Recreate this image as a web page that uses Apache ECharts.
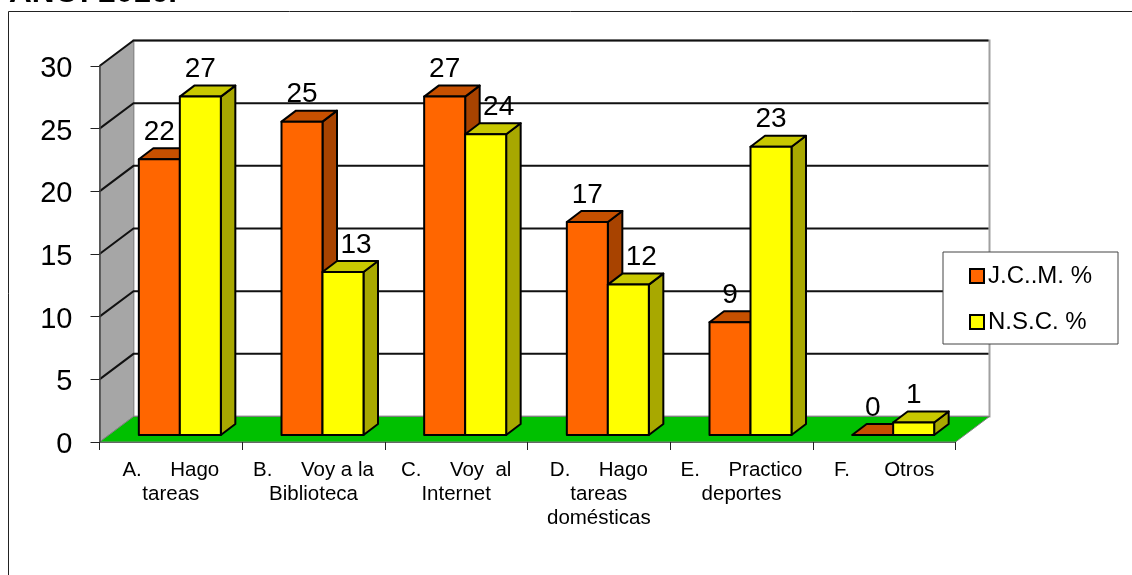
<!DOCTYPE html>
<html>
<head>
<meta charset="utf-8">
<style>html,body{margin:0;padding:0;background:#fff}#c{width:1132px;height:575px}</style>
<script src="https://cdn.jsdelivr.net/npm/echarts@6/dist/echarts.min.js"></script>
</head>
<body>
<div id="c"></div>
<script>
var categories = ["A.     Hago\ntareas", "B.     Voy a la\nBiblioteca", "C.     Voy  al\nInternet", "D.     Hago\ntareas\ndomésticas", "E.     Practico\ndeportes", "F.      Otros"];
var jcm = [22, 25, 27, 17, 9, 0];
var nsc = [27, 13, 24, 12, 23, 1];
var yTicks = [0, 5, 10, 15, 20, 25, 30];
var FONT = '"Liberation Sans", Arial, sans-serif';

// pseudo-3D depth of the chart box and of each bar, in pixels
var WALL_DX = 34, WALL_DY = 25.5;
var BAR_DX = 14.5, BAR_DY = 11;
var BAR_SHIFT_X = 9, BAR_SHIFT_Y = 7;
var BAR_W_RATIO = 41 / 142.67;
var LABEL_NUDGE = 13; // a label slides right when the bar to its left is taller

function wallItem(params, api) {
  var v = api.value(0);
  var cs = params.coordSys;
  var left = cs.x, right = cs.x + cs.width;
  var y = api.coord([0, v])[1];
  var y0 = cs.y + cs.height, yt = cs.y;
  var kids = [];
  if (params.dataIndex === 0) {
    kids.push({ type: 'polygon', shape: { points: [[left + WALL_DX, yt - WALL_DY], [right + WALL_DX, yt - WALL_DY], [right + WALL_DX, y0 - WALL_DY], [left + WALL_DX, y0 - WALL_DY]] },
      style: { fill: '#fff', stroke: '#a0a0a0', lineWidth: 2 } });
    kids.push({ type: 'polygon', shape: { points: [[left, yt], [left + WALL_DX, yt - WALL_DY], [left + WALL_DX, y0 - WALL_DY], [left, y0]] },
      style: { fill: '#a6a6a6', stroke: '#8c8c8c', lineWidth: 1 } });
    kids.push({ type: 'polygon', shape: { points: [[left, y0], [left + WALL_DX, y0 - WALL_DY], [right + WALL_DX, y0 - WALL_DY], [right, y0]] },
      style: { fill: '#00c000', stroke: '#808080', lineWidth: 1 } });
  }
  if (v > 0) {
    kids.push({ type: 'polyline', shape: { points: [[left, y], [left + WALL_DX, y - WALL_DY], [right + WALL_DX - 1, y - WALL_DY]] },
      style: { fill: null, stroke: '#111', lineWidth: 2 } });
  }
  return { type: 'group', children: kids };
}

function barRender(offsetIndex, front, top, side, neighbour) {
  return function (params, api) {
    var cat = api.value(0), val = api.value(1);
    var p = api.coord([cat, val]);
    var p0 = api.coord([cat, 0]);
    var w = api.size([1, 0])[0] * BAR_W_RATIO;
    var x = p[0] + BAR_SHIFT_X + (offsetIndex - 1) * w;
    var yT = p[1] - BAR_SHIFT_Y, yB = p0[1] - BAR_SHIFT_Y;
    var line = { stroke: '#000', lineWidth: 2, lineJoin: 'round' };
    function st(fill) { return Object.assign({ fill: fill }, line); }
    var kids = [
      { type: 'polygon', shape: { points: [[x + w, yT], [x + w + BAR_DX, yT - BAR_DY], [x + w + BAR_DX, yB - BAR_DY], [x + w, yB]] }, style: st(side) },
      { type: 'polygon', shape: { points: [[x, yT], [x + BAR_DX, yT - BAR_DY], [x + w + BAR_DX, yT - BAR_DY], [x + w, yT]] }, style: st(top) }
    ];
    if (val > 0) kids.push({ type: 'rect', shape: { x: x, y: yT, width: w, height: yB - yT }, style: st(front) });
    var nudge = neighbour && neighbour[cat] > val ? LABEL_NUDGE : 0;
    kids.push({ type: 'text', x: x + w / 2 + nudge, y: yT - 27, style: { text: String(val), fill: '#000', font: '28px ' + FONT, align: 'center', verticalAlign: 'middle' } });
    return { type: 'group', children: kids };
  };
}

var chart = echarts.init(document.getElementById('c'), null, { renderer: 'canvas' });
chart.setOption({
  animation: false,
  backgroundColor: '#fff',
  title: {
    text: 'AÑO: 2016.', left: 9, top: -23, padding: 0,
    textStyle: { fontFamily: FONT, fontSize: 31.5, fontWeight: 'bold', color: '#000' }
  },
  graphic: [{
    type: 'polyline', silent: true, z: -1,
    shape: { points: [[8.5, 575], [8.5, 11.5], [1132, 11.5]] },
    style: { fill: null, stroke: '#222', lineWidth: 1 }
  }],
  grid: { left: 99.5, top: 66, width: 856, height: 376, containLabel: false },
  legend: {
    data: ['J.C..M. %', 'N.S.C. %'],
    orient: 'vertical', left: 943, top: 252, padding: [12, 26, 10, 26],
    backgroundColor: '#fff', borderColor: '#444', borderWidth: 1,
    itemWidth: 14, itemHeight: 14, itemGap: 22, icon: 'rect', selectedMode: false,
    textStyle: { fontFamily: FONT, fontSize: 24, color: '#000', padding: [0, 0, 0, -1] },
    itemStyle: { borderColor: '#000', borderWidth: 2 },
    z: 20
  },
  xAxis: {
    type: 'category', data: categories, z: 5,
    axisLine: { show: true, lineStyle: { color: '#666', width: 1 } },
    axisTick: { show: true, alignWithLabel: false, length: 8, lineStyle: { color: '#222' } },
    axisLabel: { interval: 0, margin: 16, color: '#000', fontFamily: FONT, fontSize: 20.5, lineHeight: 24 },
    splitLine: { show: false }
  },
  yAxis: {
    type: 'value', min: 0, max: 30, interval: 5, z: 5,
    axisLine: { show: true, lineStyle: { color: '#444', width: 1.5 } },
    axisTick: { show: true, length: 9, lineStyle: { color: '#222' } },
    axisLabel: {
      margin: 27, formatter: '{n|{value}}',
      rich: { n: { color: '#000', fontFamily: FONT, fontSize: 29, padding: [6, 0, 0, 0] } }
    },
    splitLine: { show: false }
  },
  series: [
    { type: 'custom', name: 'walls', coordinateSystem: 'cartesian2d', silent: true, z: 1,
      data: yTicks.map(function (v) { return [v]; }), encode: { y: 0 }, renderItem: wallItem },
    { type: 'custom', name: 'J.C..M. %', coordinateSystem: 'cartesian2d', z: 2, itemStyle: { color: '#ff6600' },
      data: jcm.map(function (v, i) { return [i, v]; }), encode: { x: 0, y: 1 },
      renderItem: barRender(0, '#ff6600', '#c65000', '#a84300', null) },
    { type: 'custom', name: 'N.S.C. %', coordinateSystem: 'cartesian2d', z: 3, itemStyle: { color: '#ffff00' },
      data: nsc.map(function (v, i) { return [i, v]; }), encode: { x: 0, y: 1 },
      renderItem: barRender(1, '#ffff00', '#c8c800', '#a8a800', jcm) }
  ]
});
</script>
</body>
</html>
